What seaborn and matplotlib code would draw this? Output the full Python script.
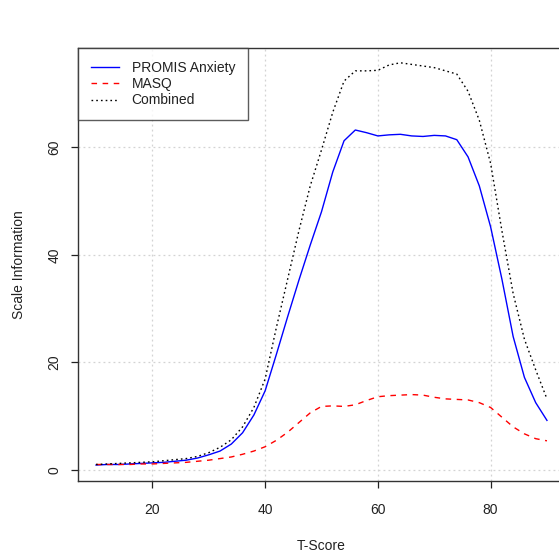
import numpy as np
import pandas as pd
import matplotlib
matplotlib.use("Agg")
import matplotlib.pyplot as plt
import seaborn as sns

# T-score grid and information curves
t_score = list(range(10, 92, 2))
promis = [0.9, 1.0, 1.0, 1.1, 1.2, 1.3, 1.4, 1.6, 1.8, 2.2, 2.8, 3.5, 4.8, 6.9, 10.2,
          14.7, 21.5, 28.5, 35.3, 41.8, 48.0, 55.4, 61.2, 63.2, 62.7, 62.1, 62.3, 62.4,
          62.1, 62.0, 62.2, 62.1, 61.4, 58.2, 52.8, 45.2, 35.5, 24.8, 17.2, 12.5, 9.2]
masq = [1.0, 1.0, 1.0, 1.0, 1.1, 1.1, 1.2, 1.3, 1.4, 1.6, 1.8, 2.1, 2.4, 2.9, 3.5,
        4.3, 5.5, 7.0, 8.8, 10.6, 11.8, 11.9, 11.8, 12.1, 12.9, 13.6, 13.8, 13.9, 14.0,
        13.9, 13.5, 13.2, 13.1, 13.0, 12.5, 11.6, 9.8, 8.0, 6.7, 5.8, 5.4]
combined = [1.0, 1.1, 1.2, 1.3, 1.4, 1.5, 1.7, 1.9, 2.1, 2.5, 3.2, 4.2, 5.6, 8.0, 11.6,
            16.9, 26.5, 35.5, 44.5, 52.8, 59.5, 66.5, 72.3, 74.2, 74.2, 74.3, 75.3, 75.7,
            75.4, 75.1, 74.8, 74.2, 73.6, 70.4, 65.0, 57.0, 44.5, 32.8, 24.3, 18.6, 13.2]

series_names = ["PROMIS Anxiety", "MASQ", "Combined"]
x_ticks = [20, 40, 60, 80]
y_ticks = [0, 20, 40, 60]

df = pd.DataFrame({
    "T-Score": t_score * 3,
    "Information": promis + masq + combined,
    "Scale": np.repeat(series_names, len(t_score)),
})

plt.rcParams["font.family"] = ["Liberation Sans", "DejaVu Sans"]
fs = 10

fig = plt.figure(figsize=(5.59, 5.54), dpi=100)
ax = fig.add_axes([78 / 559, (554 - 481) / 554, (565 - 78) / 559, (481 - 48) / 554])

styles = {
    "PROMIS Anxiety": dict(color="#0000FF", dashes=None),
    "MASQ": dict(color="#FF0000", dashes=(4, 4)),
    "Combined": dict(color="#000000", dashes=(1.2, 2.2)),
}

# grid lines under the curves
for xv in x_ticks:
    ax.axvline(xv, color="#D3D3D3", lw=0.9, ls=(0, (1.5, 2.5)), zorder=0)
for yv in y_ticks:
    ax.axhline(yv, color="#D3D3D3", lw=0.9, ls=(0, (1.5, 2.5)), zorder=0)

for name in series_names:
    sub = df[df["Scale"] == name]
    st = styles[name]
    sns.lineplot(data=sub, x="T-Score", y="Information", ax=ax, color=st["color"],
                 lw=1.0, label=name, zorder=3)
    if st["dashes"] is not None:
        ax.lines[-1].set_dashes(st["dashes"])

ax.set_xlim(6.8, 93.2)
ax.set_ylim(-2.07, 78.45)
ax.set_xticks(x_ticks)
ax.set_yticks(y_ticks)
ax.set_xticklabels([str(v) for v in x_ticks], fontsize=fs, color="#222222")
ax.set_yticklabels([str(v) for v in y_ticks], fontsize=fs, color="#222222",
                   rotation=90, va="center")
ax.tick_params(axis="both", direction="out", length=5.2, width=0.9, color="#222222")
ax.tick_params(axis="x", pad=11.0)
ax.tick_params(axis="y", pad=6.8)
ax.set_xlabel("T-Score", fontsize=fs, color="#222222", labelpad=15.5)
ax.set_ylabel("Scale Information", fontsize=fs, color="#222222", labelpad=15.3)

for sp in ax.spines.values():
    sp.set_color("#333333")
    sp.set_linewidth(1.0)

leg = ax.legend(loc="upper left", bbox_to_anchor=(0, 1), borderaxespad=0,
                fontsize=fs, frameon=True, fancybox=False, handlelength=2.0,
                handletextpad=0.95, labelspacing=0.17, borderpad=0.92)
leg.get_frame().set_edgecolor("#333333")
leg.get_frame().set_linewidth(1.0)
for text in leg.get_texts():
    text.set_color("#222222")
for line, name in zip(leg.get_lines(), series_names):
    if styles[name]["dashes"] is not None:
        line.set_dashes(styles[name]["dashes"])

fig.savefig("out.png", dpi=100)
